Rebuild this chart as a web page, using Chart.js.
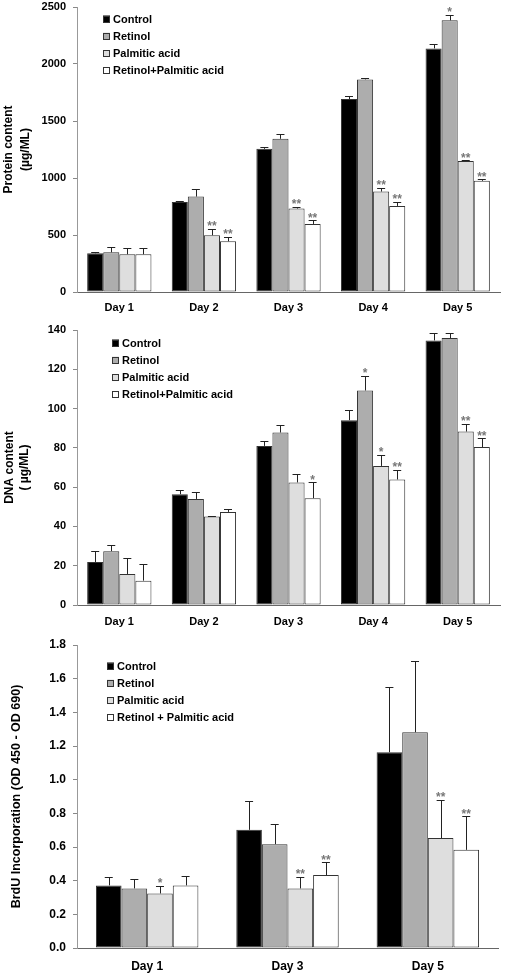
<!DOCTYPE html>
<html>
<head>
<meta charset="utf-8">
<script src="https://cdn.jsdelivr.net/npm/chart.js@4.4.1/dist/chart.umd.min.js"></script>
<style>
  html, body { margin: 0; padding: 0; background: #fff; }
  body { width: 505px; height: 974px; position: relative; overflow: hidden; }
  .box { position: absolute; left: 0; width: 505px; }
</style>
</head>
<body>
<div class="box" style="top:0;height:318px"><canvas id="protein"></canvas></div>
<div class="box" style="top:318px;height:314px"><canvas id="dna"></canvas></div>
<div class="box" style="top:632px;height:342px"><canvas id="brdu"></canvas></div>
<script>
// Data (mean, upper error = SD, significance marks)
const days5 = ['Day 1', 'Day 2', 'Day 3', 'Day 4', 'Day 5'];
const days3 = ['Day 1', 'Day 3', 'Day 5'];
const seriesNames = ['Control', 'Retinol', 'Palmitic acid', 'Retinol+Palmitic acid'];
const seriesNamesBrdu = ['Control', 'Retinol', 'Palmitic acid', 'Retinol + Palmitic acid'];

// protein content (ug/mL)
const proteinControl = [340, 790, 1256, 1692, 2137];
const proteinControlSd = [15, 6, 12, 23, 35];
const proteinRetinol = [348, 837, 1344, 1865, 2383];
const proteinRetinolSd = [44, 65, 41, 14, 47];
const proteinPalmitic = [331, 498, 732, 881, 1150];
const proteinPalmiticSd = [52, 58, 17, 35, 6];
const proteinBoth = [331, 445, 597, 755, 975];
const proteinBothSd = [52, 38, 32, 35, 12];
const proteinRetinolSig = ['', '', '', '', '*'];
const proteinPalmiticSig = ['', '**', '**', '**', '**'];
const proteinBothSig = ['', '**', '**', '**', '**'];

// DNA content (ug/mL)
const dnaControl = [21.9, 56.4, 81.0, 94.1, 134.7];
const dnaControlSd = [5.6, 1.9, 2.4, 5.1, 3.9];
const dnaRetinol = [27.4, 54.0, 87.8, 109.2, 135.9];
const dnaRetinolSd = [3.0, 3.6, 3.9, 7.5, 2.7];
const dnaPalmitic = [15.8, 45.0, 62.4, 70.8, 88.3];
const dnaPalmiticSd = [8.0, 0.4, 4.2, 5.5, 4.1];
const dnaBoth = [12.4, 47.4, 54.4, 63.9, 80.4];
const dnaBothSd = [8.5, 1.5, 8.0, 4.9, 4.5];
const dnaRetinolSig = ['', '', '', '*', ''];
const dnaPalmiticSig = ['', '', '', '*', '**'];
const dnaBothSig = ['', '', '*', '**', '**'];

// BrdU incorporation (OD 450 - OD 690)
const brduControl = [0.372, 0.702, 1.163];
const brduControlSd = [0.047, 0.170, 0.386];
const brduRetinol = [0.354, 0.617, 1.282];
const brduRetinolSd = [0.055, 0.121, 0.425];
const brduPalmitic = [0.324, 0.354, 0.653];
const brduPalmiticSd = [0.046, 0.067, 0.229];
const brduBoth = [0.372, 0.433, 0.583];
const brduBothSd = [0.053, 0.075, 0.200];
const brduPalmiticSig = ['*', '**', '**'];
const brduBothSig = ['', '**', '**'];

const FONT = "'Liberation Sans', Arial, Helvetica, sans-serif";
const fills = ['#000000', '#adadad', '#dedede', '#ffffff'];
const edge = '#333333';

// error bars (upper only) + asterisks
const errorBars = {
  id: 'errorBars',
  afterDatasetsDraw(chart) {
    const ctx = chart.ctx;
    const y = chart.scales.y;
    ctx.save();
    chart.data.datasets.forEach((ds, i) => {
      const meta = chart.getDatasetMeta(i);
      meta.data.forEach((bar, j) => {
        const top = y.getPixelForValue(ds.data[j] + ds.sd[j]);
        const cap = 4;
        ctx.strokeStyle = '#222';
        ctx.lineWidth = 1;
        ctx.beginPath();
        ctx.moveTo(Math.round(bar.x) + 0.5, bar.y);
        ctx.lineTo(Math.round(bar.x) + 0.5, Math.round(top) + 0.5);
        ctx.moveTo(bar.x - cap, Math.round(top) + 0.5);
        ctx.lineTo(bar.x + cap, Math.round(top) + 0.5);
        ctx.stroke();
        const s = ds.sig ? ds.sig[j] : '';
        if (s) {
          ctx.fillStyle = '#777';
          ctx.font = 'bold 12px ' + FONT;
          ctx.textAlign = 'center';
          ctx.textBaseline = 'middle';
          ctx.fillText(s, bar.x, top - 2);
        }
      });
    });
    ctx.restore();
  }
};

// legend drawn inside the plot area, top-left
const innerLegend = {
  id: 'innerLegend',
  afterDraw(chart, args, opts) {
    const ctx = chart.ctx;
    const area = chart.chartArea;
    const x0 = area.left + opts.dx;
    let yc = area.top + opts.dy;
    ctx.save();
    ctx.font = 'bold 11px ' + FONT;
    ctx.textBaseline = 'middle';
    ctx.textAlign = 'left';
    chart.data.datasets.forEach(ds => {
      ctx.fillStyle = ds.backgroundColor;
      ctx.fillRect(x0, yc - 3.5, 7, 7);
      ctx.strokeStyle = edge;
      ctx.lineWidth = 1;
      ctx.strokeRect(x0 + 0.5, Math.round(yc - 3.5) + 0.5, 6, 6);
      ctx.fillStyle = '#000';
      ctx.fillText(ds.label, x0 + 10, yc + 0.5);
      yc += 17.3;
    });
    ctx.restore();
  }
};

function makeChart(id, labels, names, values, sds, sigs, opts) {
  const datasets = names.map((n, i) => ({
    label: n,
    data: values[i],
    sd: sds[i],
    sig: sigs[i],
    backgroundColor: fills[i],
    borderColor: edge,
    borderWidth: 1,
    borderSkipped: false,
    categoryPercentage: opts.catPct,
    barPercentage: 1.0
  }));
  return new Chart(document.getElementById(id), {
    type: 'bar',
    data: { labels, datasets },
    plugins: [errorBars, innerLegend],
    options: {
      responsive: true,
      maintainAspectRatio: false,
      animation: false,
      layout: { padding: opts.padding },
      plugins: {
        legend: { display: false },
        tooltip: { enabled: false },
        innerLegend: opts.legend
      },
      scales: {
        x: {
          afterFit: s => { s.height = opts.xHeight; },
          grid: { display: false, drawTicks: false },
          border: { color: '#666', width: 1 },
          ticks: { color: '#000', padding: opts.xPad, font: { family: FONT, weight: 'bold', size: opts.xFont } }
        },
        y: {
          min: 0, max: opts.max,
          afterFit: s => { s.width = 77; s.paddingTop = 0; s.paddingBottom = 0; },
          grid: { drawOnChartArea: false, drawTicks: true, tickLength: 4, color: '#888' },
          border: { color: '#999', width: 1 },
          ticks: {
            stepSize: opts.step, padding: 7, color: '#000',
            font: { family: FONT, weight: 'bold', size: opts.yFont },
            callback: opts.fmt
          },
          title: {
            display: true, text: opts.title, color: '#000',
            padding: { top: opts.titlePad, bottom: 0 },
            font: { family: FONT, weight: 'bold', size: opts.titleFont, lineHeight: opts.titleLH }
          }
        }
      }
    }
  });
}

makeChart('protein', days5, seriesNames,
  [proteinControl, proteinRetinol, proteinPalmitic, proteinBoth],
  [proteinControlSd, proteinRetinolSd, proteinPalmiticSd, proteinBothSd],
  [null, proteinRetinolSig, proteinPalmiticSig, proteinBothSig],
  { catPct: 0.76, max: 2500, step: 500, fmt: v => v, xPad: 9.5, xFont: 11, yFont: 11, xHeight: 26,
    title: ['Protein content', '(\u00b5g/ML)'], titlePad: 0, titleFont: 12, titleLH: 1.42,
    padding: { top: 7, right: 5, bottom: 0, left: 0 }, legend: { dx: 26, dy: 12 } });

makeChart('dna', days5, seriesNames,
  [dnaControl, dnaRetinol, dnaPalmitic, dnaBoth],
  [dnaControlSd, dnaRetinolSd, dnaPalmiticSd, dnaBothSd],
  [null, dnaRetinolSig, dnaPalmiticSig, dnaBothSig],
  { catPct: 0.76, max: 140, step: 20, fmt: v => v, xPad: 10, xFont: 11, yFont: 11, xHeight: 27,
    title: ['DNA content', '( \u00b5g/ML)'], titlePad: 2, titleFont: 12, titleLH: 1.25,
    padding: { top: 12, right: 5, bottom: 0, left: 0 }, legend: { dx: 35, dy: 13 } });

makeChart('brdu', days3, seriesNamesBrdu,
  [brduControl, brduRetinol, brduPalmitic, brduBoth],
  [brduControlSd, brduRetinolSd, brduPalmiticSd, brduBothSd],
  [null, null, brduPalmiticSig, brduBothSig],
  { catPct: 0.73, max: 1.8, step: 0.2, fmt: v => Number(v).toFixed(1), xPad: 11.5, xFont: 12, yFont: 12, xHeight: 26,
    title: 'BrdU Incorporation (OD 450 - OD 690)', titlePad: 9, titleFont: 12.5, titleLH: 1.2,
    padding: { top: 13, right: 7, bottom: 0, left: 0 }, legend: { dx: 30, dy: 21 } });
</script>
</body>
</html>
